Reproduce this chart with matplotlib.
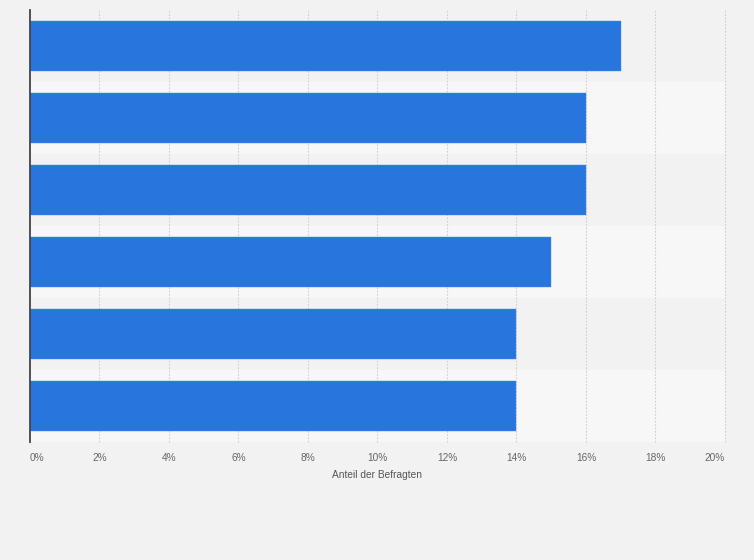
import matplotlib
matplotlib.use("Agg")
import matplotlib.pyplot as plt
import numpy as np

plt.rcParams['font.family'] = ['Liberation Sans', 'DejaVu Sans']

# data
categories = ["A", "B", "C", "D", "E", "F"]
values = [17, 16, 16, 15, 14, 14]
xticks = [0, 2, 4, 6, 8, 10, 12, 14, 16, 18, 20]
xlabel = "Anteil der Befragten"

bg = "#f2f2f2"
band_light = "#f7f7f7"
bar_color = "#2876dd"

fig = plt.figure(figsize=(7.54, 5.6), dpi=100)
fig.patch.set_facecolor(bg)
ax = fig.add_axes([30 / 754, 1 - 442 / 560, 695 / 754, 432 / 560])
ax.set_facecolor(bg)

y = np.arange(len(categories))

# alternating row bands
for i in y:
    if i % 2 == 1:
        ax.axhspan(i - 0.5, i + 0.5, color=band_light, zorder=0, lw=0)

# grid
for t in xticks[1:]:
    ax.axvline(t, color="#cfcfcf", lw=0.8, ls=(0, (1.5, 1.5)), zorder=1,
               clip_on=False)

ax.barh(y, values, height=0.7, color=bar_color, edgecolor="#4a8ce4",
        linewidth=0.3, zorder=2)

ax.set_xlim(0, 20)
ax.set_ylim(len(categories) - 0.5, -0.5)

ax.set_yticks([])
ax.set_xticks(xticks)
labels = ax.set_xticklabels([f"{t}%" for t in xticks], fontsize=7.3, color="#666666")
labels[0].set_ha("left")
labels[-1].set_ha("right")
ax.tick_params(axis="x", length=0, pad=8)

ax.set_xlabel(xlabel, fontsize=7.3, color="#555555", labelpad=5)

for s in ["top", "right", "bottom"]:
    ax.spines[s].set_visible(False)
ax.spines["left"].set_color("#444444")
ax.spines["left"].set_linewidth(1.3)
ax.spines["left"].set_zorder(3)

fig.savefig("out.png", dpi=100, facecolor=bg)
